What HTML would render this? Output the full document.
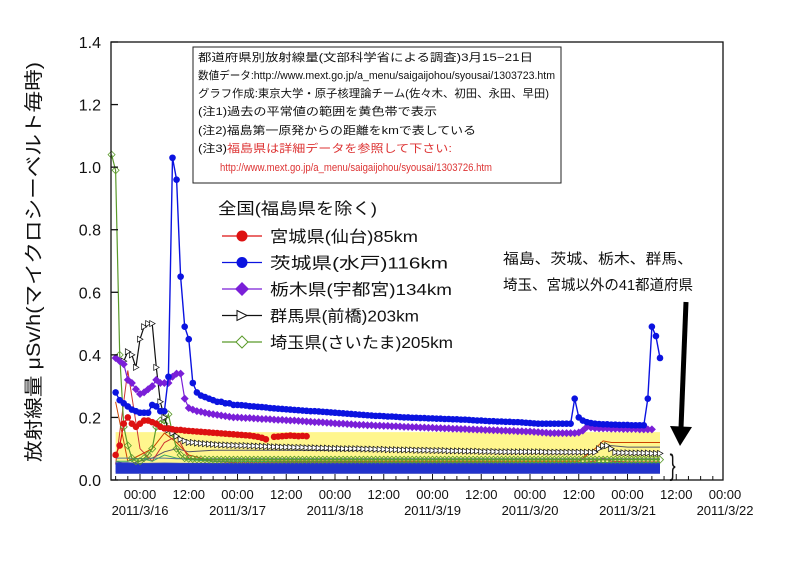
<!DOCTYPE html>
<html><head><meta charset="utf-8"><style>
body{margin:0;background:#fff;width:800px;height:566px;overflow:hidden}
svg text{font-family:"Liberation Sans","Noto Sans CJK JP",sans-serif}
</style></head><body>
<svg id="chart" width="800" height="566" viewBox="0 0 800 566" xmlns="http://www.w3.org/2000/svg">
<g id="plot"></g>
<g id="axes"></g>
<rect x="193" y="47" width="368" height="136" fill="#fff" stroke="#222" stroke-width="1"/>
<g font-size="11" fill="#111">
<text x="198" y="61" textLength="335" lengthAdjust="spacingAndGlyphs">都道府県別放射線量(文部科学省による調査)3月15−21日</text>
<text x="198" y="79" textLength="357" lengthAdjust="spacingAndGlyphs">数値データ:http://www.mext.go.jp/a_menu/saigaijohou/syousai/1303723.htm</text>
<text x="198" y="97" textLength="351" lengthAdjust="spacingAndGlyphs">グラフ作成:東京大学・原子核理論チーム(佐々木、初田、永田、早田)</text>
<text x="198" y="115" textLength="239" lengthAdjust="spacingAndGlyphs">(注1)過去の平常値の範囲を黄色帯で表示</text>
<text x="198" y="134" textLength="278" lengthAdjust="spacingAndGlyphs">(注2)福島第一原発からの距離をkmで表している</text>
<text x="198" y="152" textLength="254" lengthAdjust="spacingAndGlyphs">(注3)<tspan fill="#d33">福島県は詳細データを参照して下さい:</tspan></text>
<text x="220" y="171" fill="#d33" textLength="272" lengthAdjust="spacingAndGlyphs">http://www.mext.go.jp/a_menu/saigaijohou/syousai/1303726.htm</text>
</g>
<g id="legend" font-size="16" fill="#111"></g>
<g font-size="14.5" fill="#111">
<text x="503" y="264" textLength="190" lengthAdjust="spacingAndGlyphs">福島、茨城、栃木、群馬、</text>
<text x="503" y="290" textLength="190" lengthAdjust="spacingAndGlyphs">埼玉、宮城以外の41都道府県</text>
<line x1="686" y1="302" x2="681" y2="428" stroke="#000" stroke-width="5"/>
<polygon points="670,426 692,427 680,446" fill="#000"/>
<text x="668" y="475" font-size="30" transform="scale(0.6,1)" style="transform-origin:672px 460px">}</text>
</g>
<text transform="translate(40,262) rotate(-90)" text-anchor="middle" font-size="19" fill="#111" textLength="400" lengthAdjust="spacingAndGlyphs">放射線量 μSv/h(マイクロシーベルト毎時)</text>
</svg>
<script>
const hours=[-7,-6,-5,-4,-3,-2,-1,0,1,2,3,4,5,6,7,8,9,10,11,12,13,14,15,16,17,18,19,20,21,22,23,24,25,26,27,28,29,30,31,32,33,34,35,36,37,38,39,40,41,42,43,44,45,46,47,48,49,50,51,52,53,54,55,56,57,58,59,60,61,62,63,64,65,66,67,68,69,70,71,72,73,74,75,76,77,78,79,80,81,82,83,84,85,86,87,88,89,90,91,92,93,94,95,96,97,98,99,100,101,102,103,104,105,106,107,108,109,110,111,112,113,114,115,116,117,118,119,120,121,122,123,124,125,126,127,128,129,130];
const ibaraki=[null,0.28,0.255,0.245,0.235,0.225,0.22,0.215,0.215,0.215,0.24,0.235,0.22,0.22,0.33,1.03,0.96,0.65,0.49,0.45,0.31,0.28,0.27,0.265,0.26,0.255,0.25,0.25,0.245,0.245,0.24,0.24,0.239,0.238,0.236,0.235,0.234,0.233,0.232,0.23,0.229,0.228,0.227,0.226,0.225,0.224,0.223,0.222,0.221,0.22,0.22,0.219,0.218,0.217,0.216,0.215,0.214,0.213,0.212,0.211,0.21,0.209,0.208,0.207,0.206,0.205,0.205,0.204,0.203,0.203,0.202,0.201,0.2,0.2,0.199,0.199,0.198,0.198,0.197,0.197,0.196,0.196,0.195,0.195,0.194,0.194,0.193,0.193,0.192,0.191,0.19,0.19,0.189,0.188,0.188,0.187,0.187,0.186,0.186,0.185,0.185,0.184,0.183,0.182,0.181,0.18,0.18,0.18,0.18,0.18,0.18,0.18,0.18,0.18,0.26,0.2,0.19,0.185,0.182,0.18,0.179,0.178,0.178,0.177,0.177,0.176,0.176,0.176,0.175,0.175,0.175,0.175,0.26,0.49,0.46,0.39];
const tochigi=[null,0.39,0.38,0.37,0.32,0.31,0.29,0.275,0.28,0.29,0.3,0.32,0.31,0.31,0.31,0.33,0.34,0.34,0.26,0.23,0.225,0.22,0.218,0.215,0.212,0.21,0.208,0.206,0.204,0.202,0.2,0.2,0.199,0.198,0.198,0.197,0.196,0.195,0.195,0.194,0.193,0.192,0.192,0.191,0.19,0.19,0.189,0.188,0.187,0.186,0.185,0.185,0.184,0.183,0.182,0.181,0.18,0.18,0.179,0.178,0.177,0.176,0.176,0.175,0.175,0.174,0.174,0.173,0.173,0.172,0.172,0.171,0.17,0.17,0.169,0.169,0.168,0.168,0.167,0.167,0.166,0.166,0.165,0.165,0.164,0.164,0.163,0.163,0.162,0.162,0.161,0.161,0.16,0.16,0.159,0.159,0.158,0.158,0.157,0.157,0.156,0.156,0.155,0.155,0.154,0.153,0.152,0.151,0.15,0.15,0.15,0.15,0.15,0.15,0.15,0.152,0.158,0.17,0.168,0.166,0.165,0.165,0.165,0.164,0.164,0.164,0.163,0.163,0.163,0.163,0.162,0.162,0.162,0.162];
const miyagi=[null,0.08,0.11,0.18,0.2,0.18,0.17,0.18,0.19,0.19,0.185,0.18,0.17,0.165,0.165,0.162,0.16,0.16,0.158,0.157,0.156,0.155,0.154,0.153,0.152,0.151,0.15,0.149,0.148,0.147,0.146,0.145,0.144,0.143,0.142,0.14,0.138,0.135,0.13,null,0.138,0.139,0.14,0.141,0.142,0.141,0.14,0.141,0.14];
const gunma=[null,null,null,0.38,0.41,0.40,0.36,0.45,0.49,0.50,0.50,0.36,0.25,0.2,0.16,0.15,0.14,0.13,0.125,0.12,0.12,0.118,0.117,0.116,0.115,0.114,0.113,0.112,0.112,0.111,0.111,0.11,0.11,0.11,0.109,0.109,0.108,0.108,0.107,0.107,0.106,0.106,0.105,0.105,0.105,0.104,0.104,0.104,0.103,0.103,0.103,0.102,0.102,0.102,0.101,0.101,0.101,0.1,0.1,0.1,0.1,0.1,0.099,0.099,0.099,0.098,0.098,0.098,0.097,0.097,0.097,0.096,0.096,0.096,0.096,0.095,0.095,0.095,0.095,0.094,0.094,0.094,0.094,0.093,0.093,0.093,0.093,0.092,0.092,0.092,0.092,0.091,0.091,0.091,0.091,0.09,0.09,0.09,0.09,0.09,0.09,0.09,0.09,0.09,0.09,0.09,0.09,0.089,0.089,0.089,0.089,0.089,0.089,0.089,0.089,0.089,0.089,0.089,0.089,0.089,0.1,0.11,0.11,0.1,0.088,0.087,0.087,0.087,0.086,0.086,0.086,0.086,0.086,0.085,0.085,0.085];
const saitama=[1.04,0.99,0.4,0.17,0.11,0.07,0.06,0.06,0.07,0.08,0.1,0.17,0.19,0.18,0.21,0.15,0.1,0.08,0.07,0.068,0.067,0.066,0.066,0.066,0.065,0.065,0.065,0.065,0.065,0.065,0.065,0.065,0.065,0.065,0.065,0.065,0.065,0.065,0.065,0.065,0.065,0.065,0.065,0.065,0.065,0.065,0.065,0.065,0.065,0.065,0.065,0.065,0.065,0.065,0.065,0.065,0.065,0.065,0.065,0.065,0.065,0.065,0.065,0.065,0.065,0.065,0.065,0.065,0.065,0.065,0.065,0.065,0.065,0.065,0.065,0.065,0.065,0.065,0.065,0.065,0.065,0.065,0.065,0.065,0.065,0.065,0.065,0.065,0.065,0.065,0.065,0.065,0.065,0.065,0.065,0.065,0.065,0.065,0.065,0.065,0.065,0.065,0.065,0.065,0.065,0.065,0.065,0.065,0.065,0.065,0.065,0.065,0.065,0.065,0.065,0.065,0.065,0.065,0.065,0.065,0.065,0.065,0.065,0.065,0.065,0.065,0.065,0.065,0.065,0.065,0.065,0.065,0.065,0.065,0.065,0.065];
const otherHours=[-6,-3,0,3,6,9,12,18,24,36,48,60,72,84,96,108,112,114,116,120,128];
const others=[
 [0.06,0.05,0.06,0.07,0.09,0.1,0.09,0.095,0.095,0.095,0.094,0.094,0.093,0.093,0.093,0.092,0.093,0.1,0.11,0.105,0.105],
 [0.25,0.06,0.08,0.1,0.15,0.12,0.08,0.06,0.06,0.06,0.06,0.06,0.06,0.06,0.06,0.06,0.1,0.125,0.12,0.12,0.12],
 [0.05,0.35,0.1,0.06,0.12,0.14,0.07,0.06,0.055,0.055,0.055,0.055,0.055,0.055,0.055,0.055,0.06,0.07,0.06,0.058,0.058],
 [0.06,0.06,0.07,0.06,0.08,0.07,0.065,0.06,0.06,0.058,0.058,0.057,0.057,0.057,0.056,0.056,0.056,0.056,0.056,0.056,0.056],
 [0.05,0.05,0.05,0.05,0.05,0.05,0.05,0.05,0.05,0.05,0.05,0.05,0.05,0.05,0.05,0.05,0.05,0.05,0.05,0.05,0.05],
 [0.045,0.045,0.046,0.045,0.045,0.045,0.045,0.045,0.045,0.045,0.045,0.045,0.045,0.045,0.045,0.045,0.045,0.045,0.045,0.045,0.045],
 [0.04,0.04,0.04,0.041,0.04,0.04,0.04,0.04,0.04,0.04,0.04,0.04,0.04,0.04,0.04,0.04,0.04,0.04,0.04,0.04,0.04],
 [0.035,0.035,0.035,0.035,0.035,0.035,0.035,0.035,0.035,0.035,0.035,0.035,0.035,0.035,0.035,0.035,0.035,0.035,0.035,0.035,0.035],
 [0.03,0.03,0.03,0.03,0.03,0.03,0.03,0.03,0.03,0.03,0.03,0.03,0.03,0.03,0.03,0.03,0.03,0.03,0.03,0.03,0.03],
 [0.025,0.025,0.025,0.025,0.025,0.025,0.025,0.025,0.025,0.025,0.025,0.025,0.025,0.025,0.025,0.025,0.025,0.025,0.025,0.025,0.025],
 [0.055,0.055,0.052,0.053,0.054,0.053,0.052,0.052,0.052,0.052,0.052,0.052,0.052,0.052,0.052,0.052,0.052,0.052,0.052,0.052,0.052],
 [0.07,0.07,0.068,0.07,0.07,0.068,0.068,0.068,0.068,0.068,0.068,0.068,0.068,0.068,0.068,0.068,0.068,0.068,0.068,0.068,0.068]
];
const otherColors=["#556","#c40","#c33","#4a6","#23c","#23c","#23c","#23c","#23c","#23c","#34b","#579"];
const normalBand=[0.02,0.153];
const yTicks=[0,0.2,0.4,0.6,0.8,1.0,1.2,1.4];
const yTickLabels=["0.0","0.2","0.4","0.6","0.8","1.0","1.2","1.4"];
const xTickHours=[0,12,24,36,48,60,72,84,96,108,120,132,144];
const xTickLabels=["00:00","12:00","00:00","12:00","00:00","12:00","00:00","12:00","00:00","12:00","00:00","12:00","00:00"];
const dateHours=[0,24,48,72,96,120,144];
const dateLabels=["2011/3/16","2011/3/17","2011/3/18","2011/3/19","2011/3/20","2011/3/21","2011/3/22"];
const legendLabels=["宮城県(仙台)85km","茨城県(水戸)116km","栃木県(宇都宮)134km","群馬県(前橋)203km","埼玉県(さいたま)205km"];

const NS="http://www.w3.org/2000/svg";
const L=111,R=723,T=42,B=480;
const x=h=>140+h*97.5/24;
const y=v=>B-v*(B-T)/1.4;
function mk(tag,attrs,parent){const e=document.createElementNS(NS,tag);for(const k in attrs)e.setAttribute(k,attrs[k]);parent.appendChild(e);return e;}
const plot=document.getElementById('plot'),axes=document.getElementById('axes'),leg=document.getElementById('legend');

const band=mk('rect',{x:x(-6),y:y(normalBand[1]),width:x(128)-x(-6),height:y(normalBand[0])-y(normalBand[1]),fill:"#fff47a",opacity:0.85},plot);



others.forEach((vals,i)=>{
  const d=vals.map((v,j)=>(j?'L':'M')+x(otherHours[j]).toFixed(1)+','+y(v).toFixed(1)).join('');
  const p=mk('path',{d:d,fill:'none',stroke:otherColors[i],'stroke-width':(i>=4&&i<=9)?3:1},plot);
  
  
});

function series(vals,color,marker,name,sw){
  const g=mk('g',{},plot);
  
  
  let d='',pen=false;
  vals.forEach((v,i)=>{if(v===null){pen=false;return;}d+=(pen?'L':'M')+x(hours[i]).toFixed(1)+','+y(v).toFixed(1);pen=true;});
  mk('path',{d:d,fill:'none',stroke:color,'stroke-width':sw},g);
  vals.forEach((v,i)=>{if(v===null)return;drawMarker(g,marker,x(hours[i]),y(v),color);});
}
function drawMarker(g,m,cx,cy,c){
  let e;
  if(m==='circle')e=mk('circle',{cx:cx,cy:cy,r:3.3,fill:c},g);
  else if(m==='diamond')e=mk('polygon',{points:`${cx},${cy-4} ${cx+4},${cy} ${cx},${cy+4} ${cx-4},${cy}`,fill:c},g);
  else if(m==='tri')e=mk('polygon',{points:`${cx-2.5},${cy-3} ${cx+3},${cy} ${cx-2.5},${cy+3}`,fill:'#fff',stroke:c,'stroke-width':0.7},g);
  else e=mk('polygon',{points:`${cx},${cy-3.5} ${cx+3.5},${cy} ${cx},${cy+3.5} ${cx-3.5},${cy}`,fill:'none',stroke:c,'stroke-width':0.8},g);
  
  
}
series(saitama,'#5a9a2a','odiamond','saitama-series',1.2);
series(gunma,'#111','tri','gunma-series',1.2);
series(miyagi,'#dd1111','circle','miyagi-series',1.2);
series(tochigi,'#7a1fd8','diamond','tochigi-series',1.2);
series(ibaraki,'#0b13e0','circle','ibaraki-series',1.4);

mk('rect',{x:L,y:T,width:R-L,height:B-T,fill:'none',stroke:'#111','stroke-width':1.3},axes);
yTicks.forEach((v,i)=>{
  mk('line',{x1:L,x2:L+7,y1:y(v),y2:y(v),stroke:'#111','stroke-width':1.3},axes);
  const t=mk('text',{x:L-10,y:y(v)+6,'text-anchor':'end','font-size':16,fill:'#111'},axes);
  t.textContent=yTickLabels[i];
  
  
});
for(let h=-6;h<=144;h+=3){if(x(h)>R)break;mk('line',{x1:x(h),x2:x(h),y1:B,y2:B-(h%12===0?6:4),stroke:'#111','stroke-width':1},axes);}
xTickHours.forEach((h,i)=>{
  const t=mk('text',{x:x(h),y:499,'text-anchor':'middle','font-size':13,fill:'#111'},axes);
  t.textContent=xTickLabels[i];
  
  
});
dateHours.forEach((h,i)=>{
  const t=mk('text',{x:x(h),y:515,'text-anchor':'middle','font-size':13,fill:'#111'},axes);
  t.textContent=dateLabels[i];
  
  
});

const lt=mk('text',{x:218,y:214,'font-size':16,textLength:159,lengthAdjust:'spacingAndGlyphs'},leg);
lt.textContent='全国(福島県を除く)';


const lc=['#dd1111','#0b13e0','#7a1fd8','#111','#5a9a2a'],lm=['circle','circle','diamond','tri','odiamond'];
const lw=[148,178,182,149,183];
legendLabels.forEach((s,i)=>{
  const yy=236+i*26.5;
  const g=mk('g',{},leg);
  
  
  mk('line',{x1:222,x2:262,y1:yy,y2:yy,stroke:lc[i],'stroke-width':1.3},g);
  if(lm[i]==='circle')mk('circle',{cx:242,cy:yy,r:5.5,fill:lc[i]},g);
  else if(lm[i]==='diamond')mk('polygon',{points:`242,${yy-7} 249,${yy} 242,${yy+7} 235,${yy}`,fill:lc[i]},g);
  else if(lm[i]==='tri')mk('polygon',{points:`237,${yy-5} 247,${yy} 237,${yy+5}`,fill:'#fff',stroke:lc[i]},g);
  else mk('polygon',{points:`242,${yy-6} 248,${yy} 242,${yy+6} 236,${yy}`,fill:'#fff',stroke:lc[i]},g);
  const t=mk('text',{x:270,y:yy+6,'font-size':16,fill:'#111',textLength:lw[i],lengthAdjust:'spacingAndGlyphs'},g);
  t.textContent=s;
});
</script>
</body></html>
